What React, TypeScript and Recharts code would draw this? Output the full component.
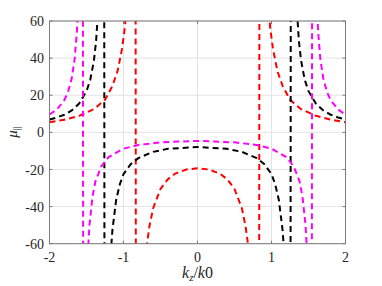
import { LineChart, Line, XAxis, YAxis, CartesianGrid, Label } from 'recharts'

// k_z/k0 samples and mu_par readings per curve (poles drawn as near-vertical jumps)
const redX = [-2, -1.8, -1.6, -1.4, -1.25, -1.15, -1.08, -1.02, -0.98, -0.95, -0.837, -0.833, -0.7, -0.68, -0.65, -0.6, -0.5, -0.4, -0.3, -0.15, 0,
  0.15, 0.3, 0.4, 0.5, 0.6, 0.65, 0.68, 0.7, 0.833, 0.837, 0.95, 0.98, 1.02, 1.08, 1.15, 1.25, 1.4, 1.6, 1.8, 2]
const redY = [5.4, 6.8, 8.9, 12.5, 17.5, 25, 33, 45, 57, 75, 100, -100, -69, -59.5, -50.7, -41, -30.5, -25.2, -22.2, -20, -19.4,
  -20, -22.2, -25.2, -30.5, -41, -50.7, -59.5, -69, -100, 100, 75, 57, 45, 33, 25, 17.5, 12.5, 8.9, 6.8, 5.4]

const blackX = [-2, -1.9, -1.8, -1.7, -1.6, -1.5, -1.45, -1.4, -1.37, -1.34, -1.261, -1.257, -1.2, -1.17, -1.15, -1.1, -1.05, -1, -0.9, -0.8, -0.6, -0.4, 0,
  0.4, 0.6, 0.8, 0.9, 1, 1.05, 1.1, 1.15, 1.17, 1.2, 1.257, 1.261, 1.34, 1.37, 1.4, 1.45, 1.5, 1.6, 1.7, 1.8, 1.9, 2]
const blackY = [6.9, 8, 9.5, 11.8, 15.5, 22.2, 28.2, 38.6, 49.3, 68, 100, -100, -96, -64, -52.7, -36.6, -28, -22.5, -17, -13.9, -10.5, -8.9, -7.9,
  -8.9, -10.5, -13.9, -17, -22.5, -28, -36.6, -52.7, -64, -96, -100, 100, 68, 49.3, 38.6, 28.2, 22.2, 15.5, 11.8, 9.5, 8, 6.9]

const magentaX = [-2, -1.9, -1.8, -1.75, -1.7, -1.66, -1.63, -1.61, -1.549, -1.545, -1.5, -1.48, -1.46, -1.42, -1.38, -1.3, -1.2, -1, -0.8, -0.5, 0,
  0.5, 0.8, 1, 1.2, 1.3, 1.38, 1.42, 1.46, 1.48, 1.5, 1.545, 1.549, 1.61, 1.63, 1.66, 1.7, 1.75, 1.8, 1.9, 2]
const magentaY = [9.6, 12.3, 17.3, 21.7, 29, 39.5, 54.3, 72, 100, -100, -90, -64, -50, -35, -26.5, -18.3, -13.3, -8.8, -6.8, -5.4, -4.6,
  -5.4, -6.8, -8.8, -13.3, -18.3, -26.5, -35, -50, -64, -90, -100, 100, 72, 54.3, 39.5, 29, 21.7, 17.3, 12.3, 9.6]

const xTicks = [-2, -1, 0, 1, 2]
const yTicks = [-60, -40, -20, 0, 20, 40, 60]

const zip = (xs: number[], ys: number[]) => xs.map((x, i) => ({ x, y: ys[i] }))

const series = [
  { name: 'red', color: '#ff0000', data: zip(redX, redY) },
  { name: 'black', color: '#000000', data: zip(blackX, blackY) },
  { name: 'magenta', color: '#ff00ff', data: zip(magentaX, magentaY) },
]

const font = 'Liberation Serif'
const textColor = '#262626'
const axisColor = '#7a7a7a'

const XTick = ({ x, y, payload }: any) => (
  <text x={x} y={y} dy="0.71em" textAnchor="middle" fontFamily={font} fontSize={14} fill={textColor}>
    {payload.value}
  </text>
)

const YTick = ({ x, y, payload }: any) => (
  <text x={x} y={y} dy="0.36em" textAnchor="end" fontFamily={font} fontSize={14} fill={textColor}>
    {payload.value}
  </text>
)

export default function App() {
  return (
    <div style={{ position: 'absolute', left: 0, top: 0, width: 382, height: 286, background: '#fff' }}>
      <LineChart width={382} height={286} margin={{ top: 16, right: 26.5, left: 9.5, bottom: 12.3 }}>
        <CartesianGrid stroke="#e3e3e3" />
        <XAxis
          type="number"
          dataKey="x"
          domain={[-2, 2]}
          ticks={xTicks}
          allowDataOverflow
          height={30}
          tickSize={-3}
          tickMargin={11}
          tick={XTick}
          stroke={axisColor}
        >
          <Label
            content={({ viewBox }: any) => (
              <text
                x={viewBox.x + viewBox.width / 2}
                y={viewBox.y + 34}
                textAnchor="middle"
                fontFamily={font}
                fontSize={16}
                fill={textColor}
              >
                <tspan fontStyle="italic">k</tspan>
                <tspan fontStyle="italic" fontSize={11} dy={3}>z</tspan>
                <tspan dy={-3}>/</tspan>
                <tspan fontStyle="italic">k</tspan>
                <tspan>0</tspan>
              </text>
            )}
          />
        </XAxis>
        <XAxis
          xAxisId="top"
          orientation="top"
          type="number"
          dataKey="x"
          domain={[-2, 2]}
          ticks={xTicks}
          allowDataOverflow
          height={5}
          tickSize={-3}
          tick={() => <g />}
          stroke={axisColor}
        />
        <YAxis
          type="number"
          domain={[-60, 60]}
          ticks={yTicks}
          allowDataOverflow
          width={40}
          tickSize={-3}
          tickMargin={8.5}
          tick={YTick}
          stroke={axisColor}
        >
          <Label
            content={() => (
              <text
                x={17}
                y={132}
                transform="rotate(-90 17 132)"
                textAnchor="middle"
                fontFamily={font}
                fontSize={15}
                fill={textColor}
              >
                <tspan fontStyle="italic">μ</tspan>
                <tspan fontSize={10} dy={3}>||</tspan>
              </text>
            )}
          />
        </YAxis>
        <YAxis
          yAxisId="right"
          orientation="right"
          type="number"
          domain={[-60, 60]}
          ticks={yTicks}
          allowDataOverflow
          width={10}
          tickSize={-3}
          tick={() => <g />}
          stroke={axisColor}
        />
        {series.map((s) => (
          <Line
            key={s.name}
            data={s.data}
            dataKey="y"
            type="linear"
            stroke={s.color}
            strokeWidth={2}
            strokeDasharray="6 4"
            dot={false}
            activeDot={false}
            isAnimationActive={false}
          />
        ))}
      </LineChart>
    </div>
  )
}
